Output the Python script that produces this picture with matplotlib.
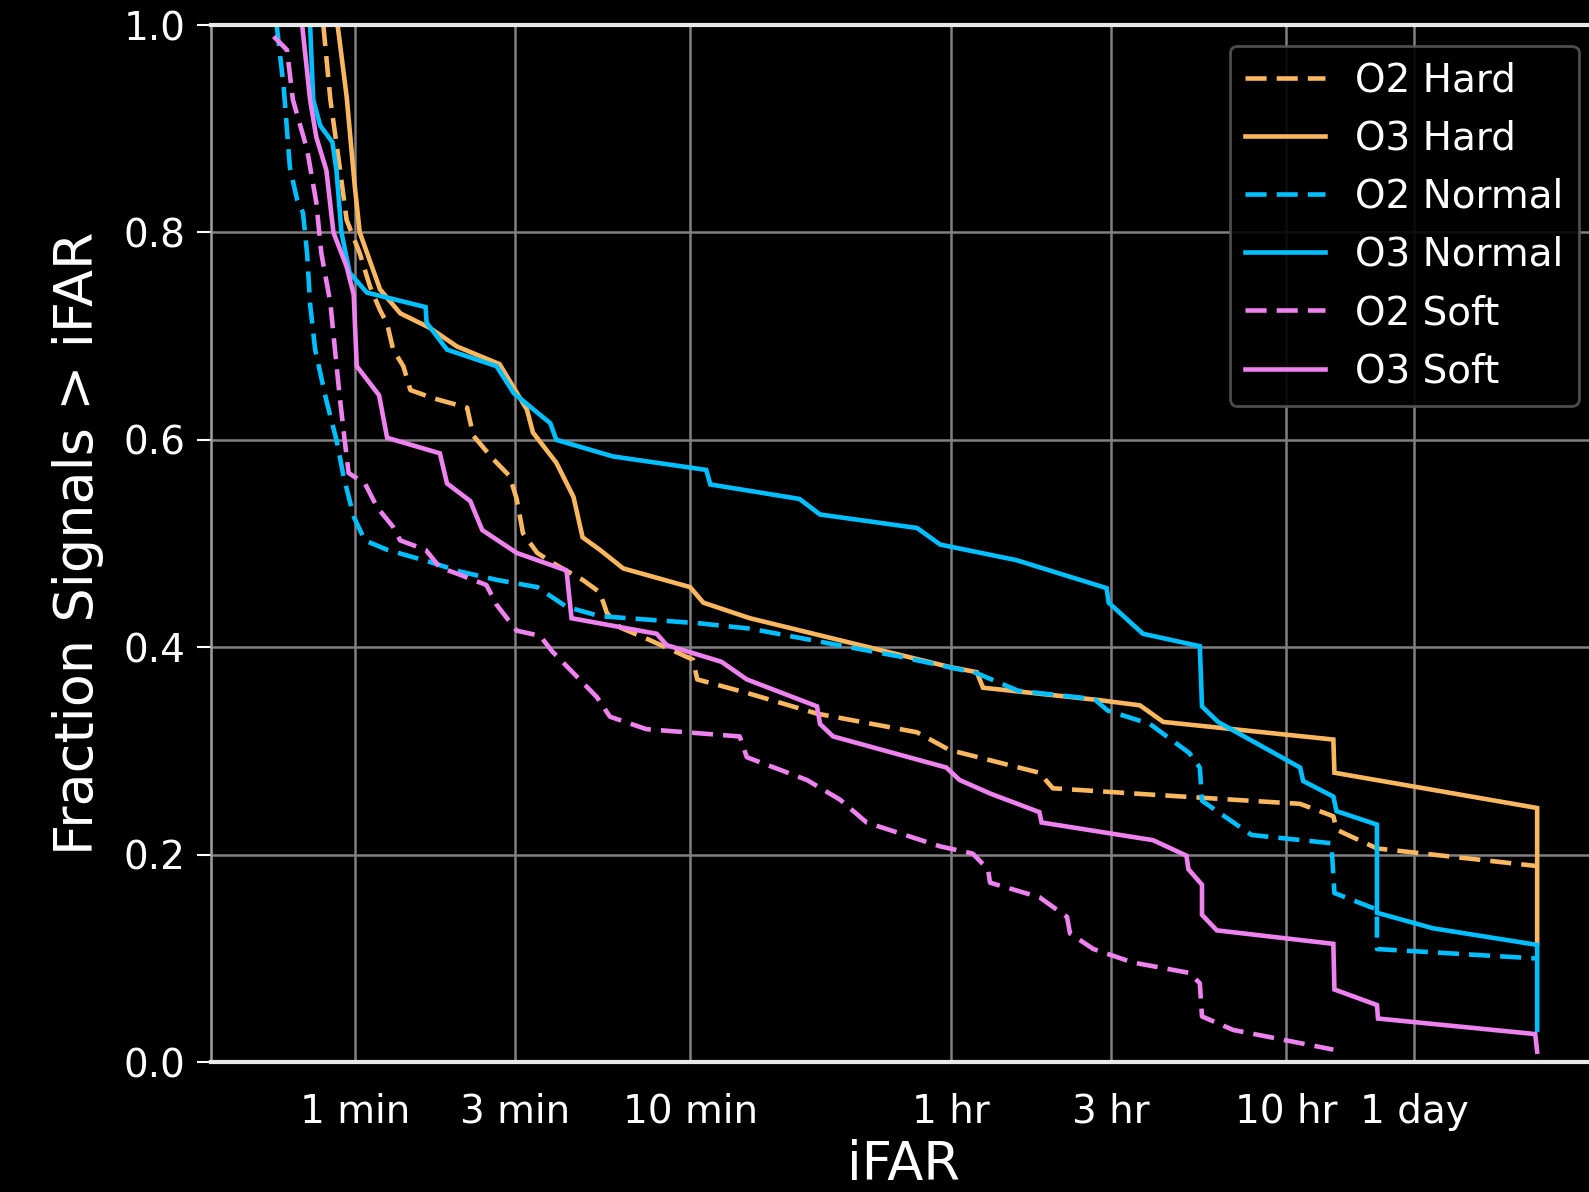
import numpy as np
import matplotlib
matplotlib.use("Agg")
import matplotlib.pyplot as plt

# iFAR in minutes, fraction of signals with iFAR above it
o2_hard_x = [0.806, 0.846, 0.901, 0.946, 1.035, 1.110, 1.190, 1.249, 1.302, 1.396, 1.466, 1.720, 2.163,
             2.257, 2.594, 2.898, 3.04, 3.174, 3.50, 3.91, 4.78, 5.38, 5.65, 6.19, 7.57, 10.2, 10.5, 14.76,
             23.9, 47.5, 59.3, 110, 120.7, 235, 659, 828, 847, 1117, 3355]
o2_hard_y = [1.0, 0.928, 0.864, 0.812, 0.780, 0.748, 0.725, 0.712, 0.687, 0.671, 0.648, 0.640, 0.631,
             0.604, 0.581, 0.565, 0.543, 0.510, 0.491, 0.481, 0.465, 0.453, 0.433, 0.419, 0.407, 0.388,
             0.369, 0.356, 0.336, 0.318, 0.301, 0.279, 0.264, 0.258, 0.249, 0.237, 0.224, 0.206, 0.189]

o3_hard_x = [0.889, 0.946, 1.0, 1.035, 1.190, 1.367, 1.674, 2.018, 2.704, 3.263, 3.40, 3.99, 4.49, 4.78,
             5.38, 6.32, 10.0, 10.95, 15.08, 59.3, 71.6, 74.7, 166.2, 219.4, 257.5, 828, 834, 3355, 3355]
o3_hard_y = [1.0, 0.931, 0.845, 0.800, 0.745, 0.722, 0.708, 0.690, 0.673, 0.629, 0.607, 0.578, 0.545,
             0.506, 0.494, 0.476, 0.458, 0.443, 0.428, 0.381, 0.376, 0.361, 0.349, 0.344, 0.328, 0.311,
             0.279, 0.245, 0.115]

o2_normal_x = [0.585, 0.614, 0.641, 0.673, 0.701, 0.721, 0.736, 0.762, 0.823, 0.882, 0.926, 0.993, 1.072,
               1.249, 1.685, 2.061, 2.648, 3.50, 4.28, 5.38, 10.7, 15.08, 42.2, 71.6, 95.2, 160.5, 175.8,
               235, 308, 331, 336, 472, 817, 834, 1117, 1117, 3311]
o2_normal_y = [1.0, 0.940, 0.862, 0.832, 0.819, 0.780, 0.731, 0.687, 0.638, 0.600, 0.565, 0.526, 0.503,
               0.494, 0.482, 0.473, 0.465, 0.458, 0.439, 0.430, 0.423, 0.418, 0.391, 0.375, 0.358, 0.350,
               0.339, 0.326, 0.298, 0.284, 0.252, 0.219, 0.211, 0.163, 0.147, 0.109, 0.100]

o3_normal_x = [0.736, 0.752, 0.789, 0.858, 0.882, 0.913, 0.966, 1.087, 1.627, 1.638, 1.884, 2.648, 2.98,
               3.83, 3.99, 5.89, 11.17, 11.49, 21.2, 24.4, 47.5, 55.7, 94.0, 174.6, 177, 224, 331, 336,
               375, 659, 673, 828, 846, 1117, 1117, 1641, 3355, 3355]
o3_normal_y = [1.0, 0.928, 0.903, 0.887, 0.860, 0.800, 0.761, 0.742, 0.728, 0.713, 0.687, 0.671, 0.645,
               0.616, 0.600, 0.584, 0.571, 0.557, 0.543, 0.528, 0.515, 0.499, 0.484, 0.457, 0.443, 0.413,
               0.401, 0.343, 0.328, 0.284, 0.271, 0.256, 0.242, 0.229, 0.144, 0.129, 0.113, 0.031]

o2_soft_x = [0.573, 0.628, 0.654, 0.721, 0.768, 0.795, 0.846, 0.870, 0.901, 0.933, 0.959, 1.072, 1.166,
             1.302, 1.367, 1.627, 1.794, 2.018, 2.47, 2.648, 3.04, 3.57, 3.88, 4.65, 5.27, 5.77, 7.41,
             14.06, 14.76, 22.3, 28.0, 33.6, 55.7, 69.6, 77.3, 78.4, 110, 133, 135.8, 159.4, 209, 308,
             331, 336, 416, 828]
o2_soft_y = [0.989, 0.976, 0.928, 0.880, 0.829, 0.780, 0.732, 0.692, 0.643, 0.600, 0.568, 0.558, 0.535,
             0.516, 0.503, 0.494, 0.477, 0.471, 0.460, 0.441, 0.416, 0.411, 0.396, 0.370, 0.352, 0.333,
             0.321, 0.314, 0.294, 0.272, 0.253, 0.231, 0.208, 0.201, 0.186, 0.173, 0.159, 0.140, 0.124,
             0.109, 0.096, 0.086, 0.076, 0.044, 0.031, 0.012]

o3_soft_x = [0.697, 0.736, 0.768, 0.823, 0.864, 0.946, 0.993, 1.014, 1.182, 1.249, 1.794, 1.884, 2.21,
             2.40, 3.04, 4.28, 4.43, 7.95, 8.52, 12.4, 14.76, 23.9, 24.4, 26.7, 58.1, 63.6, 78.4, 110,
             111.7, 240, 302, 306, 336, 336, 372, 828, 834, 1117, 1125, 3311, 3355]
o3_soft_y = [1.0, 0.928, 0.892, 0.860, 0.800, 0.767, 0.740, 0.671, 0.643, 0.602, 0.587, 0.558, 0.541,
             0.513, 0.491, 0.474, 0.428, 0.413, 0.402, 0.386, 0.369, 0.343, 0.326, 0.314, 0.284, 0.272,
             0.259, 0.241, 0.231, 0.214, 0.199, 0.186, 0.171, 0.142, 0.127, 0.114, 0.070, 0.055, 0.042,
             0.027, 0.010]

tick_vals = [1, 3, 10, 60, 180, 600, 1440]
tick_labels = ["1 min", "3 min", "10 min", "1 hr", "3 hr", "10 hr", "1 day"]

orange = "#f9b75f"
blue = "#00bfff"
pink = "#ee82ee"

plt.style.use("dark_background")
plt.rcParams["font.family"] = ["DejaVu Sans"]

fig = plt.figure(figsize=(15.89, 11.92), dpi=100)
ax = fig.add_axes([0.1327, 0.109, 0.8723, 0.870])

lw = 3.3
dash = (4.6, 2.2)
series = [
    (o2_hard_x, o2_hard_y, orange, True, "O2 Hard"),
    (o3_hard_x, o3_hard_y, orange, False, "O3 Hard"),
    (o2_normal_x, o2_normal_y, blue, True, "O2 Normal"),
    (o3_normal_x, o3_normal_y, blue, False, "O3 Normal"),
    (o2_soft_x, o2_soft_y, pink, True, "O2 Soft"),
    (o3_soft_x, o3_soft_y, pink, False, "O3 Soft"),
]
for x, y, c, dashed, name in series:
    line, = ax.plot(x, y, color=c, lw=lw, label=name, solid_joinstyle="miter")
    if dashed:
        line.set_dashes(dash)

ax.set_xscale("log")
ax.set_xlim(0.3724, 5058)
ax.set_ylim(0, 1)
ax.set_xticks(tick_vals)
ax.set_xticklabels(tick_labels)
ax.xaxis.set_minor_locator(matplotlib.ticker.NullLocator())
ax.set_yticks([0, 0.2, 0.4, 0.6, 0.8, 1.0])
ax.set_yticklabels(["0.0", "0.2", "0.4", "0.6", "0.8", "1.0"])
ax.tick_params(axis="x", length=0, pad=22, labelsize=28, colors="white")
ax.tick_params(axis="y", length=10, width=1.5, pad=8, labelsize=28, colors="white")

ax.grid(True, color="#808080", lw=1.8)
ax.set_axisbelow(True)
for s in ["top", "bottom"]:
    ax.spines[s].set_color("#e8e8e8")
    ax.spines[s].set_linewidth(3)
ax.spines["left"].set_color("#a0a0a0")
ax.spines["left"].set_linewidth(1.8)
ax.spines["right"].set_visible(False)

ax.set_xlabel("iFAR", fontsize=38, labelpad=6)
ax.set_ylabel("Fraction Signals > iFAR", fontsize=39, labelpad=14)

leg = ax.legend(loc="upper right", bbox_to_anchor=(0.9937, 0.9617), bbox_transform=fig.transFigure,
                borderaxespad=0, fontsize=28, handlelength=2.05, handletextpad=0.78, labelspacing=0.52,
                facecolor="black", edgecolor="#555555", framealpha=0.9, fancybox=True)
leg.get_frame().set_linewidth(2)

fig.savefig("out.png", dpi=100, facecolor="black")
